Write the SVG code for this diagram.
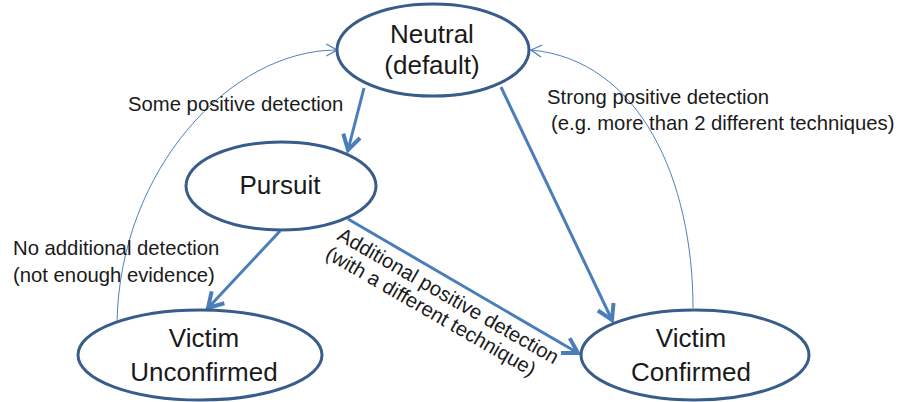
<svg xmlns="http://www.w3.org/2000/svg" width="902" height="402" viewBox="0 0 902 402">
  <style>
    .state { fill: #ffffff; stroke: #385d8a; stroke-width: 3; }
    .name { font-family: "Liberation Sans", Arial, sans-serif; font-size: 26px; fill: #1a1a1a; text-anchor: middle; }
    .edge { fill: none; stroke: #4a7ebb; stroke-width: 3; }
    .back { fill: none; stroke: #4f81bd; stroke-width: 1; }
    .label { font-family: "Liberation Sans", Arial, sans-serif; font-size: 20.3px; fill: #1a1a1a; }
  </style>
  <defs>
    <marker id="head" markerUnits="userSpaceOnUse" markerWidth="24" markerHeight="24" viewBox="-14 -9 18 18" refX="0" refY="0" orient="auto">
      <path d="M-11,-6.5 L0,0 L-11,6.5" fill="none" stroke="#4a7ebb" stroke-width="3" stroke-linejoin="miter"/>
    </marker>
    <marker id="thin-head" markerUnits="userSpaceOnUse" markerWidth="16" markerHeight="16" viewBox="-10 -6 12 12" refX="0" refY="0" orient="auto">
      <path d="M-8,-4.5 L0,0 L-8,4.5" fill="none" stroke="#4f81bd" stroke-width="1"/>
    </marker>
  </defs>
  <rect width="902" height="402" fill="#ffffff"/>

  <!-- transitions -->
  <g id="connectors">
    <path class="edge" d="M364,88 L348,150" marker-end="url(#head)"/>
    <path class="edge" d="M501,87 L612,320" marker-end="url(#head)"/>
    <path class="edge" d="M280,231 L208,308" marker-end="url(#head)"/>
    <path class="edge" d="M348,219 L578,353" marker-end="url(#head)"/>
    <path class="back" d="M117,322 C120,170 230,50 337,50" marker-end="url(#thin-head)"/>
    <path class="back" d="M693,308 C693,180 640,60 531,50" marker-end="url(#thin-head)"/>
  </g>

  <!-- states -->
  <g id="neutral">
    <ellipse class="state" cx="433" cy="50" rx="96" ry="46"/>
    <text class="name" x="432" y="43">Neutral</text>
    <text class="name" x="432" y="74">(default)</text>
  </g>
  <g id="pursuit">
    <ellipse class="state" cx="281" cy="186" rx="95" ry="44"/>
    <text class="name" x="280" y="194">Pursuit</text>
  </g>
  <g id="victim-unconfirmed">
    <ellipse class="state" cx="200" cy="355" rx="122" ry="45"/>
    <text class="name" x="204" y="347">Victim</text>
    <text class="name" x="204" y="381">Unconfirmed</text>
  </g>
  <g id="victim-confirmed">
    <ellipse class="state" cx="695" cy="355" rx="114" ry="45"/>
    <text class="name" x="691" y="347">Victim</text>
    <text class="name" x="691" y="381">Confirmed</text>
  </g>

  <!-- transition labels -->
  <g id="labels">
    <text class="label" x="128" y="111">Some positive detection</text>
    <text class="label" x="547" y="104">Strong positive detection</text>
    <text class="label" x="551" y="130">(e.g. more than 2 different techniques)</text>
    <text class="label" x="13" y="255">No additional detection</text>
    <text class="label" x="13" y="282">(not enough evidence)</text>
    <g transform="translate(336,239) rotate(30)">
      <text class="label" x="0" y="0">Additional positive detection</text>
      <text class="label" x="-1" y="22">(with a different technique)</text>
    </g>
  </g>
</svg>
